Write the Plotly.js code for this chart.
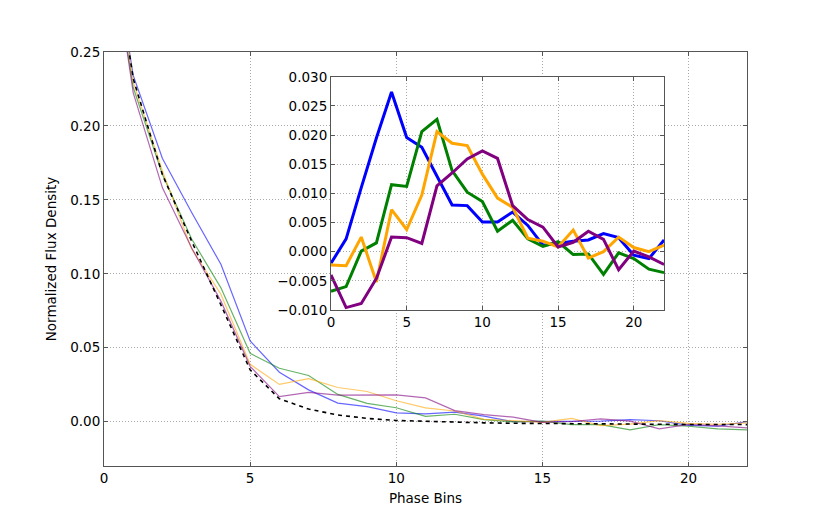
<!DOCTYPE html>
<html>
<head>
<meta charset="utf-8">
<script src="https://cdn.plot.ly/plotly-3.0.1.min.js"></script>
<style>html,body{margin:0;padding:0;background:#fff;}</style>
</head>
<body>
<div id="chart" style="width:830px;height:519px;"></div>
<script>
  // phase bins
  const bins = [0, 1, 2, 3, 4, 5, 6, 7, 8, 9, 10, 11, 12, 13, 14, 15, 16, 17, 18, 19, 20, 21, 22];

  // template profile (black dashed)
  const template = [0.36, 0.232, 0.167, 0.122, 0.079, 0.035, 0.0155, 0.0085, 0.0045, 0.0022,
    0.0008, 0.0001, -0.0004, -0.0008, -0.0011, -0.0013, -0.0015, -0.0016, -0.0017, -0.0018,
    -0.0019, -0.0019, -0.0020];

  // residuals relative to the template (inset)
  const resBlue = [-0.0020, 0.0022, 0.0110, 0.0195, 0.0274, 0.0196, 0.0179, 0.0130, 0.0080, 0.0079,
    0.0051, 0.0051, 0.0068, 0.0045, 0.0011, 0.0014, 0.0018, 0.0020, 0.0031, 0.0024,
    -0.0006, -0.0012, 0.0020];
  const resGreen = [-0.0068, -0.0060, 0.0001, 0.0015, 0.0115, 0.0112, 0.0206, 0.0227, 0.0139, 0.0102,
    0.0086, 0.0035, 0.0054, 0.0022, 0.0009, 0.0017, -0.0005, -0.0004, -0.0039, -0.0002,
    -0.0012, -0.0030, -0.0036];
  const resOrange = [-0.0023, -0.0024, 0.0025, -0.0052, 0.0072, 0.0038, 0.0097, 0.0206, 0.0186, 0.0182,
    0.0133, 0.0092, 0.0076, 0.0023, 0.0018, 0.0008, 0.0037, -0.0011, 0.0000, 0.0025,
    0.0007, 0.0000, 0.0011];
  const resPurple = [-0.0040, -0.0096, -0.0089, -0.0046, 0.0025, 0.0024, 0.0014, 0.0113, 0.0135, 0.0159,
    0.0173, 0.0160, 0.0079, 0.0055, 0.0042, 0.0008, 0.0016, 0.0035, 0.0021, -0.0031,
    0.0001, -0.0009, -0.0022];

  const series = [
    {res: resBlue,   full: 'rgb(0,0,255)',   light: 'rgba(0,0,255,0.6)'},
    {res: resGreen,  full: 'rgb(0,128,0)',   light: 'rgba(0,128,0,0.6)'},
    {res: resOrange, full: 'rgb(255,165,0)', light: 'rgba(255,165,0,0.6)'},
    {res: resPurple, full: 'rgb(128,0,128)', light: 'rgba(128,0,128,0.6)'}
  ];

  function addTemplate(res) {
    return res.map((r, i) => template[i] + r);
  }

  let data = [];

  // main panel: each profile = template + residual
  series.forEach(s => {
    data.push({x: bins, y: addTemplate(s.res), mode: 'lines', xaxis: 'x', yaxis: 'y',
      line: {color: s.light, width: 1.2}, hoverinfo: 'skip'});
  });
  data.push({x: bins, y: template, mode: 'lines', xaxis: 'x', yaxis: 'y',
    line: {color: '#000', width: 1.6, dash: '4px,4px'}, hoverinfo: 'skip'});

  // inset: residuals
  series.forEach(s => {
    data.push({x: bins, y: s.res, mode: 'lines', xaxis: 'x2', yaxis: 'y2',
      line: {color: s.full, width: 3}, hoverinfo: 'skip'});
  });

  const font = {family: 'DejaVu Sans, sans-serif', size: 13.5, color: '#000'};

  const axisBase = {
    showline: true, linecolor: '#555', linewidth: 1, mirror: 'ticks',
    ticks: 'inside', ticklen: 4, tickcolor: '#555', tickwidth: 1,
    showgrid: true, gridcolor: '#aaaaaa', griddash: '1px,2px', gridwidth: 1,
    zeroline: false, tickfont: font, fixedrange: true
  };

  const layout = {
    width: 830, height: 519,
    margin: {l: 104, r: 83, t: 52, b: 53, pad: 0},
    paper_bgcolor: '#fff', plot_bgcolor: '#fff',
    showlegend: false,
    font: font,
    xaxis: {...axisBase, range: [0, 22], tickvals: [0, 5, 10, 15, 20], domain: [0, 1],
      title: {text: 'Phase Bins', font: font, standoff: 8}},
    yaxis: {...axisBase, range: [-0.03, 0.25], tickvals: [0, 0.05, 0.1, 0.15, 0.2, 0.25],
      tickformat: '.2f', domain: [0, 1],
      title: {text: 'Normalized Flux Density', font: font, standoff: 10}},
    xaxis2: {...axisBase, anchor: 'y2', range: [0, 22], tickvals: [0, 5, 10, 15, 20],
      domain: [0.353, 0.871]},
    yaxis2: {...axisBase, anchor: 'x2', range: [-0.01, 0.03],
      tickvals: [-0.01, -0.005, 0, 0.005, 0.01, 0.015, 0.02, 0.025, 0.03],
      tickformat: '.3f', domain: [0.377, 0.94]}
  };

  Plotly.newPlot('chart', data, layout, {displayModeBar: false, staticPlot: true});
</script>
</body>
</html>
